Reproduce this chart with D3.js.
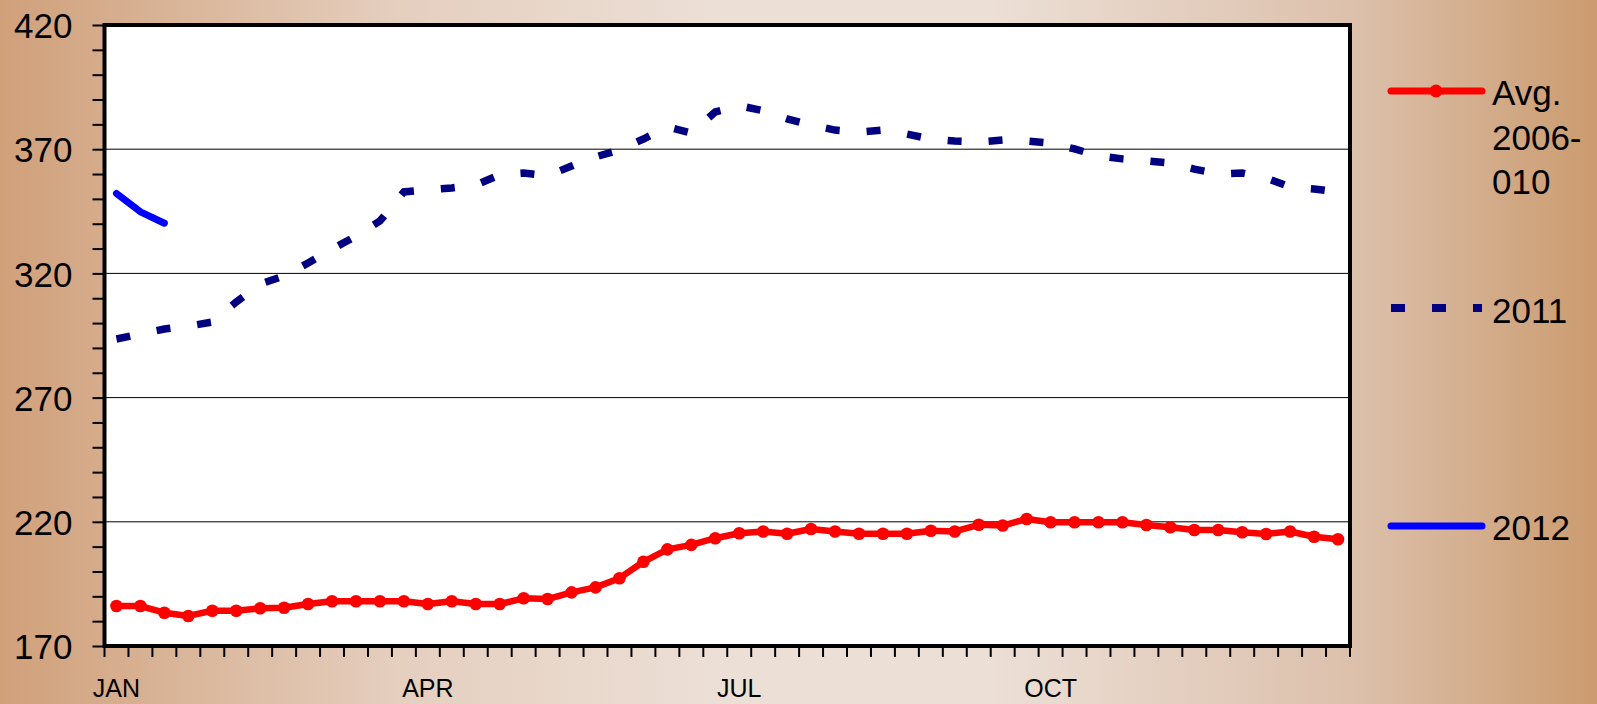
<!DOCTYPE html>
<html>
<head>
<meta charset="utf-8">
<script src="https://cdn.jsdelivr.net/npm/d3@7"></script>
<style>
  html, body { margin: 0; padding: 0; }
  svg { display: block; font-family: 'Liberation Sans', Arial, sans-serif; }
</style>
</head>
<body>
<svg id="chart" width="1597" height="704"></svg>
<script>
// weekly values
const weeks = d3.range(1, 53)
const avgValues = [186.1, 186.1, 183.4, 182.1, 184.2, 184.2, 185.2, 185.4, 186.9, 188,
  188, 188, 188, 186.9, 188, 186.9, 186.9, 189.2, 188.9, 191.6,
  193.6, 197.3, 203.9, 208.9, 210.7, 213.4, 215.4, 216.1, 215.2, 217.1,
  216.1, 215.2, 215.2, 215.2, 216.4, 216.1, 218.8, 218.5, 221.1, 219.8,
  219.8, 219.8, 219.8, 218.7, 217.8, 216.7, 216.7, 215.8, 215.1, 216.1,
  214, 213]
const values2011 = [293.6, 295.6, 297.6, 298.8, 300.4, 308.5, 315.7, 319, 324.2, 329.8,
  335, 341.1, 352.8, 353.6, 354.4, 355.6, 359.7, 360.4, 359.3, 363.2,
  366.9, 369.7, 374.1, 379, 376.5, 385, 387.5, 385.5, 382.2, 379.7,
  377.7, 376.9, 377.7, 376.1, 374.1, 373.3, 372.9, 373.7, 373.3, 372.5,
  370.1, 367.3, 366.1, 365.3, 364.4, 362, 360, 360.4, 358.4, 354.8,
  354, 352.8]
const values2012 = [352.2, 344.8, 340.2]
const yTicks = d3.range(170, 421, 10)
const yLabels = [170, 220, 270, 320, 370, 420]
const gridValues = [220, 270, 320, 370]
const monthWeeks = [1, 14, 27, 40]
const monthLabels = ['JAN', 'APR', 'JUL', 'OCT']
const seriesNames = [['Avg.', '2006-', '010'], ['2011'], ['2012']]

const svg = d3.select('#chart')
const plotLeft = 104.5
const plotRight = 1350
const plotTop = 25
const plotBottom = 646

// background
const grad = svg.append('defs').append('linearGradient')
  .attr('id', 'bg').attr('x1', 0).attr('x2', 1).attr('y1', 0).attr('y2', 0)
const stops = [[0, '#d0a07a'], [0.25, '#e5cfbf'], [0.45, '#ecdfd6'], [0.62, '#ecdfd6'], [0.85, '#dcc0ab'], [1, '#cb9b6f']]
grad.selectAll('stop').data(stops).join('stop')
  .attr('offset', d => d[0]).attr('stop-color', d => d[1])
svg.append('rect').attr('width', 1597).attr('height', 704).attr('fill', 'url(#bg)')

const x = d3.scaleBand().domain(weeks).range([plotLeft, plotRight])
const y = d3.scaleLinear().domain([170, 420]).range([plotBottom, plotTop])
const cx = w => x(w) + x.bandwidth() / 2

svg.append('rect')
  .attr('x', plotLeft).attr('y', plotTop)
  .attr('width', plotRight - plotLeft).attr('height', plotBottom - plotTop)
  .attr('fill', '#fff')

svg.append('g').selectAll('line').data(gridValues).join('line')
  .attr('x1', plotLeft).attr('x2', plotRight)
  .attr('y1', d => y(d)).attr('y2', d => y(d))
  .attr('stroke', '#000').attr('stroke-width', 1)

// y axis
const yAxis = svg.append('g')
  .attr('transform', 'translate(' + plotLeft + ',0)')
  .call(d3.axisLeft(y).tickValues(yTicks).tickSize(12).tickSizeOuter(0).tickPadding(20)
    .tickFormat(d => yLabels.includes(d) ? d : ''))
yAxis.select('.domain').remove()
yAxis.selectAll('line').attr('stroke-width', 2)
yAxis.selectAll('text').attr('font-size', 35).attr('fill', '#000').attr('dy', '0.36em')

// x axis: ticks between weeks, labels under the week
const bounds = weeks.map(w => x(w)).concat([plotRight])
svg.append('g').selectAll('line').data(bounds).join('line')
  .attr('x1', d => d).attr('x2', d => d)
  .attr('y1', plotBottom).attr('y2', plotBottom + 11)
  .attr('stroke', '#000').attr('stroke-width', 2)
const xAxis = svg.append('g')
  .attr('transform', 'translate(0,' + plotBottom + ')')
  .call(d3.axisBottom(x).tickValues(monthWeeks).tickSize(0).tickPadding(51)
    .tickFormat(d => monthLabels[monthWeeks.indexOf(d)]))
xAxis.select('.domain').remove()
xAxis.selectAll('text').attr('font-size', 25).attr('fill', '#000').attr('dy', '0')

// series
const line = d3.line().x((d, i) => cx(weeks[i])).y(d => y(d))

svg.append('path').datum(avgValues)
  .attr('d', line).attr('fill', 'none')
  .attr('stroke', '#ff0000').attr('stroke-width', 6.5).attr('stroke-linejoin', 'round')
svg.append('g').selectAll('circle').data(avgValues).join('circle')
  .attr('cx', (d, i) => cx(weeks[i])).attr('cy', d => y(d))
  .attr('r', 6.3).attr('fill', '#ff0000')

svg.append('path').datum(values2011)
  .attr('d', line).attr('fill', 'none')
  .attr('stroke', '#000080').attr('stroke-width', 7.5)
  .attr('stroke-dasharray', '14 27')

svg.append('path').datum(values2012)
  .attr('d', line).attr('fill', 'none')
  .attr('stroke', '#0000ff').attr('stroke-width', 7)
  .attr('stroke-linecap', 'round').attr('stroke-linejoin', 'round')

// plot frame
svg.append('rect')
  .attr('x', plotLeft).attr('y', plotTop)
  .attr('width', plotRight - plotLeft).attr('height', plotBottom - plotTop)
  .attr('fill', 'none').attr('stroke', '#000').attr('stroke-width', 4)

// legend
const lg = svg.append('g').attr('font-size', 35)
const legendY = [91, 308, 526]
const textY = [105, 323, 540]
lg.append('line').attr('x1', 1391).attr('x2', 1482).attr('y1', legendY[0]).attr('y2', legendY[0])
  .attr('stroke', '#ff0000').attr('stroke-width', 7).attr('stroke-linecap', 'round')
lg.append('circle').attr('cx', 1436).attr('cy', legendY[0]).attr('r', 6.5).attr('fill', '#ff0000')
lg.append('line').attr('x1', 1391).attr('x2', 1482).attr('y1', legendY[1]).attr('y2', legendY[1])
  .attr('stroke', '#000080').attr('stroke-width', 8).attr('stroke-dasharray', '14 27')
lg.append('line').attr('x1', 1391).attr('x2', 1482).attr('y1', legendY[2]).attr('y2', legendY[2])
  .attr('stroke', '#0000ff').attr('stroke-width', 7).attr('stroke-linecap', 'round')

seriesNames.forEach((rows, k) => {
  const t = lg.append('text').attr('x', 1492).attr('y', textY[k]).attr('fill', '#000')
  rows.forEach((r, j) => {
    t.append('tspan').attr('x', 1492).attr('dy', j === 0 ? 0 : 44.5).text(r)
  })
})
</script>
</body>
</html>
